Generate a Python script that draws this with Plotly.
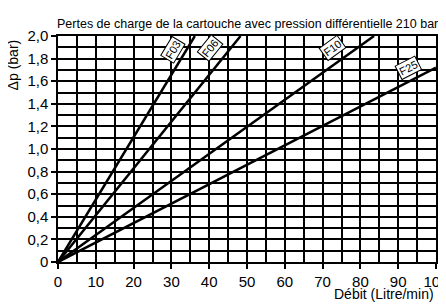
import plotly.graph_objects as go

# Data
series_names = ["F03", "F06", "F10", "F25"]
x_start = [0, 0, 0, 0]
y_start = [0, 0, 0, 0]
x_end = [36.2, 48.3, 83.6, 100]
y_end = [2.0, 2.0, 2.0, 1.72]
label_x = [30.3, 40.3, 72.6, 92.6]
label_y = [1.88, 1.89, 1.895, 1.715]
label_angle = [-59, -51, -36, -27]

x_tickvals = [0, 10, 20, 30, 40, 50, 60, 70, 80, 90, 100]
x_ticktext = ["0", "10", "20", "30", "40", "50", "60", "70", "80", "90", "100"]
y_tickvals = [0, 0.2, 0.4, 0.6, 0.8, 1.0, 1.2, 1.4, 1.6, 1.8, 2.0]
y_ticktext = ["0", "0,2", "0,4", "0,6", "0,8", "1,0", "1,2", "1,4", "1,6", "1,8", "2,0"]

title_text = "Pertes de charge de la cartouche avec pression différentielle 210 bar"
x_title = "Débit (Litre/min)"
y_title = "Δp (bar)"

fig = go.Figure()
for i, name in enumerate(series_names):
    fig.add_trace(go.Scatter(
        x=[x_start[i], x_end[i]], y=[y_start[i], y_end[i]],
        mode="lines", line=dict(color="black", width=2.5),
        name=name, showlegend=False, hoverinfo="skip"))
    fig.add_annotation(
        x=label_x[i], y=label_y[i], text=name, showarrow=False,
        textangle=label_angle[i], bgcolor="white", bordercolor="black",
        borderwidth=1, borderpad=1,
        font=dict(family="Liberation Sans, Arial, sans-serif", size=11, color="black"))

axis_font = dict(family="Liberation Sans, Arial, sans-serif", size=15, color="black")

fig.update_xaxes(
    range=[0, 100], tickvals=x_tickvals, ticktext=x_ticktext,
    showgrid=True, gridcolor="black", gridwidth=1.5,
    minor=dict(dtick=5, showgrid=True, gridcolor="black", gridwidth=1.5),
    showline=True, linecolor="black", linewidth=1.5, mirror=True,
    ticks="outside", ticklen=5, tickcolor="black", tickwidth=1.5,
    tickfont=axis_font, zeroline=False, automargin=False,
    ticklabeloverflow="allow")
fig.update_yaxes(
    range=[0, 2.0], tickvals=y_tickvals, ticktext=y_ticktext,
    showgrid=True, gridcolor="black", gridwidth=1.5,
    minor=dict(dtick=0.1, showgrid=True, gridcolor="black", gridwidth=1.5),
    showline=True, linecolor="black", linewidth=1.5, mirror=True,
    ticks="outside", ticklen=5, tickcolor="black", tickwidth=1.5,
    tickfont=axis_font, zeroline=False, automargin=False,
    ticklabeloverflow="allow")

fig.add_annotation(
    xref="paper", yref="paper", x=0.5, y=1.0, yshift=3,
    xanchor="center", yanchor="bottom", showarrow=False, text=title_text,
    font=dict(family="Liberation Sans, Arial, sans-serif", size=12.5, color="black"))
fig.add_annotation(
    xref="paper", yref="paper", x=1.0, y=0, yshift=-22,
    xanchor="right", yanchor="top", showarrow=False, text=x_title,
    font=dict(family="Liberation Sans, Arial, sans-serif", size=14, color="black"))
fig.add_annotation(
    xref="paper", yref="paper", x=0, xshift=-45, y=0.87,
    xanchor="center", yanchor="middle", showarrow=False, text=y_title,
    textangle=-90,
    font=dict(family="Liberation Sans, Arial, sans-serif", size=14, color="black"))

fig.update_layout(
    width=438, height=297,
    margin=dict(l=50, r=10, t=28, b=43, autoexpand=False),
    paper_bgcolor="white", plot_bgcolor="white",
    showlegend=False)

fig.write_html("out.html")
